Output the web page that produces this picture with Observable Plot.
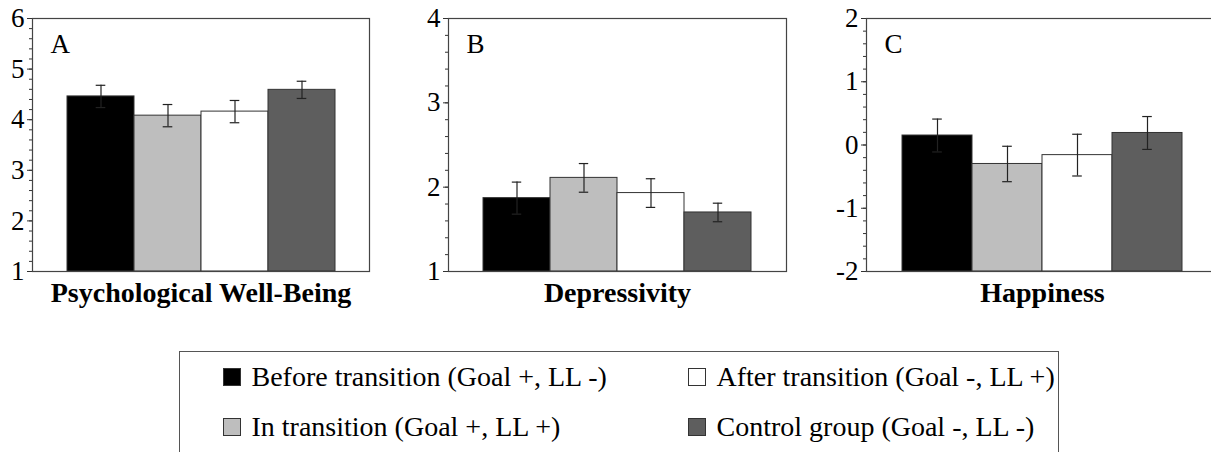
<!DOCTYPE html>
<html>
<head>
<meta charset="utf-8">
<script src="https://cdn.jsdelivr.net/npm/d3@7"></script>
<script src="https://cdn.jsdelivr.net/npm/@observablehq/plot@0.6"></script>
<style>
  html, body { margin: 0; padding: 0; background: #fff; overflow: hidden; }
  #wrap { position: relative; width: 1211px; height: 452px; overflow: hidden; font-family: "Liberation Serif", "Times New Roman", serif; }
  .panel { position: absolute; top: 0; }
  .panel text { font-family: "Liberation Serif", "Times New Roman", serif; }
  #legend { position: absolute; left: 179px; top: 351px; width: 880px; height: 130px; border: 1.5px solid #555; box-sizing: border-box; }
  .item { position: absolute; display: flex; align-items: center; font-family: "Liberation Serif", "Times New Roman", serif; font-size: 28px; line-height: 1; white-space: nowrap; color: #000; }
  .sw { width: 16px; height: 16px; border: 1px solid #333; margin-right: 11px; flex: none; }
</style>
</head>
<body>
<div id="wrap">
  <div id="legend"></div>
</div>
<script>
// ---- data ----
const groups = [
  "Before transition (Goal +, LL -)",
  "In transition (Goal +, LL +)",
  "After transition (Goal -, LL +)",
  "Control group (Goal -, LL -)"
];
const colors = ["#000000", "#bebebe", "#ffffff", "#5e5e5e"];

const wellbeing = [4.46, 4.08, 4.16, 4.59];
const wellbeingErr = [0.22, 0.22, 0.22, 0.17];

const depressivity = [1.87, 2.11, 1.93, 1.70];
const depressivityErr = [0.19, 0.17, 0.17, 0.11];

const happiness = [0.15, -0.30, -0.16, 0.19];
const happinessErr = [0.26, 0.28, 0.33, 0.26];

const panelLetters = ["A", "B", "C"];
const panelTitles = ["Psychological Well-Being", "Depressivity", "Happiness"];
const yTicksA = [1, 2, 3, 4, 5, 6];
const yTicksB = [1, 2, 3, 4];
const yTicksC = [-2, -1, 0, 1, 2];

// ---- layout ----
const panels = [
  {letter: panelLetters[0], title: panelTitles[0], values: wellbeing, errs: wellbeingErr, ticks: yTicksA, frameLeft: 32, frameWidth: 337},
  {letter: panelLetters[1], title: panelTitles[1], values: depressivity, errs: depressivityErr, ticks: yTicksB, frameLeft: 448, frameWidth: 338},
  {letter: panelLetters[2], title: panelTitles[2], values: happiness, errs: happinessErr, ticks: yTicksC, frameLeft: 866, frameWidth: 352}
];

const wrap = document.getElementById("wrap");
const marginTop = 18, marginBottom = 49, H = 320, ml = 40, mr = 10;
const serif = "'Liberation Serif', 'Times New Roman', serif";

panels.forEach((p, i) => {
  const lo = p.ticks[0], hi = p.ticks[p.ticks.length - 1];
  const data = groups.map((g, j) => ({group: g, value: p.values[j], err: p.errs[j]}));
  const minor = d3.range(Math.round((hi - lo) / 0.2) + 1).map(k => +(lo + k * 0.2).toFixed(2));
  const step = p.frameWidth / 5;
  const inset = (step - 10) / 2;
  const leftMargin = i === 0 ? 32 : ml;
  const chart = Plot.plot({
    width: leftMargin + p.frameWidth + mr,
    height: H,
    marginLeft: leftMargin,
    marginRight: mr,
    marginTop,
    marginBottom,
    style: {fontFamily: serif, fontSize: "27px", color: "#000", background: "transparent", overflow: "visible"},
    x: {domain: groups, paddingInner: 0, paddingOuter: 0.5, axis: null},
    y: {domain: [lo, hi], axis: null},
    color: {domain: groups, range: colors},
    marks: [
      Plot.barY(data, {x: "group", y1: lo, y2: "value", fill: "group", stroke: "#333", strokeWidth: 1}),
      Plot.ruleX(data, {x: "group", y1: d => d.value - d.err, y2: d => d.value + d.err, stroke: "#222", strokeWidth: 1.2}),
      Plot.tickY(data, {x: "group", y: d => d.value + d.err, insetLeft: inset, insetRight: inset, stroke: "#222", strokeWidth: 1.2}),
      Plot.tickY(data, {x: "group", y: d => d.value - d.err, insetLeft: inset, insetRight: inset, stroke: "#222", strokeWidth: 1.2}),
      Plot.axisY({ticks: minor, tickSize: 3, text: null, label: null, stroke: "#333"}),
      Plot.axisY({ticks: p.ticks, tickSize: 5, tickPadding: 3, label: null, tickFormat: d => String(d), stroke: "#333", fontSize: 27, fontFamily: serif}),
      Plot.frame({stroke: "#444", strokeWidth: 1.2}),
      Plot.text([p.letter], {frameAnchor: "top-left", lineAnchor: "middle", textAnchor: "start", dx: 18, dy: 26, fontSize: 27, fontFamily: serif, fill: "#000"}),
      Plot.text([p.title], {frameAnchor: "bottom", lineAnchor: "middle", dy: 22, fontSize: 28, fontFamily: serif, fontWeight: "bold", fill: "#000"})
    ]
  });
  chart.classList.add("panel");
  chart.style.left = (p.frameLeft - leftMargin) + "px";
  wrap.appendChild(chart);
});

// ---- legend ----
const legend = document.getElementById("legend");
const legendPos = [
  {x: 44, y: 26}, {x: 44, y: 76}, {x: 509, y: 26}, {x: 509, y: 76}
];
groups.forEach((g, j) => {
  const it = document.createElement("div");
  it.className = "item";
  it.style.left = (legendPos[j].x - 1.5) + "px";
  it.style.top = (legendPos[j].y - 1.5 - 14) + "px";
  it.style.height = "28px";
  const sw = document.createElement("div");
  sw.className = "sw";
  sw.style.background = colors[j];
  const tx = document.createElement("span");
  tx.textContent = g;
  it.appendChild(sw);
  it.appendChild(tx);
  legend.appendChild(it);
});
</script>
</body>
</html>
